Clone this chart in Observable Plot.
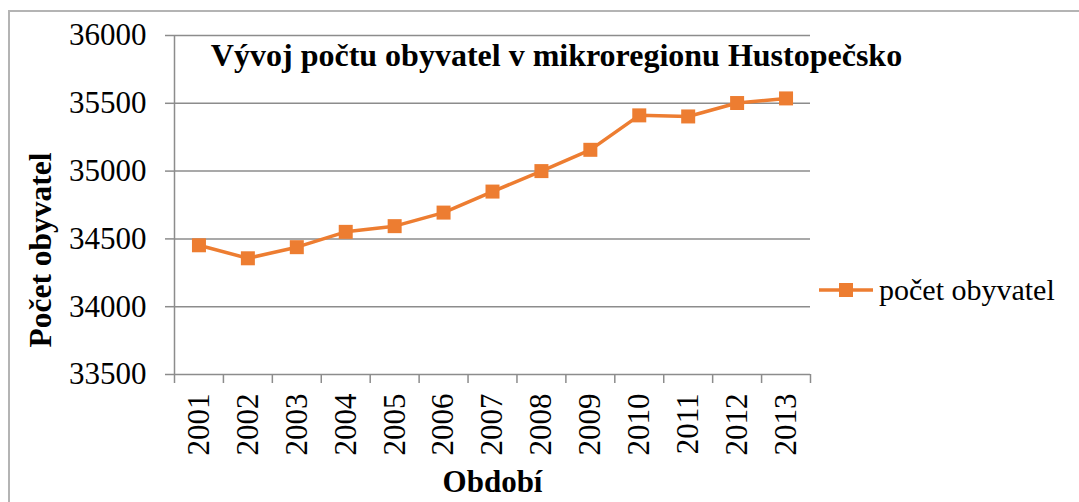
<!DOCTYPE html>
<html><head><meta charset="utf-8">
<script src="https://cdn.jsdelivr.net/npm/d3@7"></script>
<script src="https://cdn.jsdelivr.net/npm/@observablehq/plot@0.6"></script>
<style>
body{margin:0;background:#fff;}
#wrap{position:relative;width:1079px;height:502px;overflow:hidden;background:#fff;}
#wrap, #wrap text, #wrap span{font-family:"Liberation Serif","Times New Roman",serif !important;}
#wrap text{font-variant:normal !important;}
#border{position:absolute;left:8px;top:10px;width:1100px;height:520px;border-top:2px solid #b4b4b4;border-left:2px solid #b4b4b4;pointer-events:none;z-index:2;}
#legend{position:absolute;left:818px;top:273px;display:flex;align-items:center;font-size:30px;line-height:34px;color:#000;white-space:nowrap;z-index:3;}
#legend svg{display:block;margin-right:5px;}
</style></head>
<body><div id="wrap"><div id="border"></div><div id="legend"></div></div>
<script>
const years = [2001, 2002, 2003, 2004, 2005, 2006, 2007, 2008, 2009, 2010, 2011, 2012, 2013];
const population = [34453, 34357, 34439, 34552, 34594, 34694, 34849, 35000, 35157, 35411, 35403, 35502, 35536];
const yTicks = [33500, 34000, 34500, 35000, 35500, 36000];
const seriesName = "počet obyvatel";
const chartTitle = "Vývoj počtu obyvatel v mikroregionu Hustopečsko";
const yTitle = "Počet obyvatel";
const xTitle = "Období";
const lineColor = "#ED7D31";
const gridColor = "#8c8c8c";
const serif = "Liberation Serif, Times New Roman, serif";

const data = years.map((year, i) => ({year, value: population[i]}));
const bounds = [years[0] - 0.5, ...years.map(y => y + 0.5)];

const chart = Plot.plot({
  width: 1079, height: 502,
  marginLeft: 174, marginRight: 269, marginTop: 35, marginBottom: 128,
  style: {fontFamily: serif, background: "transparent", color: "#000", overflow: "visible"},
  x: {type: "linear", domain: [bounds[0], bounds[bounds.length - 1]]},
  y: {domain: [yTicks[0], yTicks[yTicks.length - 1]]},
  marks: [
    Plot.ruleY(yTicks, {stroke: gridColor, strokeWidth: 1.5}),
    Plot.ruleX([bounds[0]], {stroke: gridColor, strokeWidth: 1.5}),
    Plot.axisY({ticks: yTicks, tickSize: 9, tickPadding: 19, fontSize: 31, fontFamily: serif, label: null, stroke: gridColor, strokeWidth: 1.5, tickFormat: d => String(d)}),
    Plot.axisX({ticks: bounds, tickSize: 9, tickFormat: () => "", label: null, stroke: gridColor, strokeWidth: 1.5}),
    Plot.axisX({ticks: years, tickSize: 0, tickPadding: 19, tickRotate: -90, fontSize: 31, fontFamily: serif, label: null, tickFormat: d => String(d)}),
    Plot.line(data, {x: "year", y: "value", stroke: lineColor, strokeWidth: 3.5}),
    Plot.dot(data, {x: "year", y: "value", symbol: "square", r: 7.9, fill: lineColor, stroke: "none"}),
    Plot.text([chartTitle], {frameAnchor: "top", textAnchor: "middle", lineAnchor: "middle", dx: 64, dy: 20, fontSize: 32, fontWeight: "bold", fontFamily: serif}),
    Plot.text([yTitle], {frameAnchor: "left", textAnchor: "middle", lineAnchor: "middle", rotate: -90, dx: -134, dy: 45, fontSize: 31.5, fontWeight: "bold", fontFamily: serif}),
    Plot.text([xTitle], {frameAnchor: "bottom", textAnchor: "middle", lineAnchor: "middle", dy: 108, fontSize: 31, fontWeight: "bold", fontFamily: serif})
  ]
});
document.getElementById("wrap").prepend(chart);

const lg = document.getElementById("legend");
lg.innerHTML = `<svg width="56" height="20"><line x1="1" x2="55" y1="10" y2="10" stroke="${lineColor}" stroke-width="3.5"/><rect x="21" y="3" width="14" height="14" fill="${lineColor}"/></svg><span>${seriesName}</span>`;
</script>
</body></html>
